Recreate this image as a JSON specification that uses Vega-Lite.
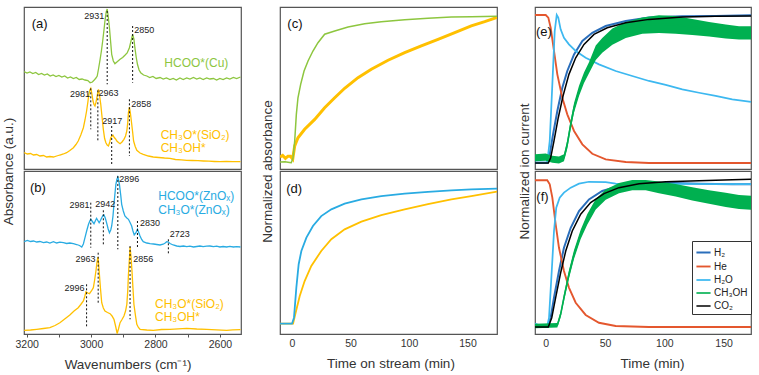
{
"$schema": "https://vega.github.io/schema/vega-lite/v6.json",
"padding": {"left": 0, "top": 6, "right": 5, "bottom": 2},
"config": {"font": "Liberation Sans", "view": {"stroke": "#555", "strokeWidth": 1.2}, "axis": {"grid": false, "labelFont": "Liberation Sans", "titleFont": "Liberation Sans"}},
"spacing": 17,
"resolve": {"scale": {"color": "independent", "strokeWidth": "independent"}, "legend": {"color": "independent"}},
"hconcat": [
{
 "vconcat": [
 {
  "width": 217, "height": 162,
  "encoding": {
   "x": {"field": "wn", "type": "quantitative", "scale": {"domain": [2534.4, 3208.4], "reverse": true, "nice": false, "zero": false}, "axis": null},
   "y": {"field": "h", "type": "quantitative", "scale": {"domain": [0, 162], "nice": false, "zero": false}, "axis": {"title": "Absorbance (a.u.)", "labels": false, "ticks": false, "domain": false, "grid": false, "titleX": -16, "titleY": 164, "titleAngle": -90, "titleAlign": "center", "titleBaseline": "middle", "titleFontSize": 13.5, "titleFontWeight": "normal", "titleColor": "#333"}}
  },
  "layer": [
   {"data": {"values": [
    {"wn":3208,"h":97.3,"s":"HCOO(Cu)"},{"wn":3199,"h":96,"s":"HCOO(Cu)"},{"wn":3190,"h":97,"s":"HCOO(Cu)"},{"wn":3181,"h":95.5,"s":"HCOO(Cu)"},{"wn":3172,"h":96.5,"s":"HCOO(Cu)"},{"wn":3163,"h":94.5,"s":"HCOO(Cu)"},{"wn":3154,"h":95.5,"s":"HCOO(Cu)"},{"wn":3145,"h":94,"s":"HCOO(Cu)"},{"wn":3136,"h":95,"s":"HCOO(Cu)"},{"wn":3127,"h":93,"s":"HCOO(Cu)"},{"wn":3118,"h":94,"s":"HCOO(Cu)"},{"wn":3109,"h":92.5,"s":"HCOO(Cu)"},{"wn":3100,"h":93.5,"s":"HCOO(Cu)"},{"wn":3091,"h":92,"s":"HCOO(Cu)"},{"wn":3082,"h":93,"s":"HCOO(Cu)"},{"wn":3073,"h":91,"s":"HCOO(Cu)"},{"wn":3064,"h":92,"s":"HCOO(Cu)"},{"wn":3055,"h":90.5,"s":"HCOO(Cu)"},{"wn":3046,"h":91.5,"s":"HCOO(Cu)"},{"wn":3037,"h":89.5,"s":"HCOO(Cu)"},{"wn":3028,"h":90,"s":"HCOO(Cu)"},{"wn":3019,"h":89,"s":"HCOO(Cu)"},{"wn":3010,"h":88.5,"s":"HCOO(Cu)"},{"wn":3003,"h":86.3,"s":"HCOO(Cu)"},{"wn":2996,"h":87,"s":"HCOO(Cu)"},{"wn":2991,"h":88.7,"s":"HCOO(Cu)"},{"wn":2985,"h":91,"s":"HCOO(Cu)"},{"wn":2981,"h":93,"s":"HCOO(Cu)"},{"wn":2977,"h":100,"s":"HCOO(Cu)"},{"wn":2972,"h":109.7,"s":"HCOO(Cu)"},{"wn":2968,"h":118,"s":"HCOO(Cu)"},{"wn":2964,"h":128,"s":"HCOO(Cu)"},{"wn":2960,"h":139,"s":"HCOO(Cu)"},{"wn":2957,"h":148,"s":"HCOO(Cu)"},{"wn":2953,"h":157,"s":"HCOO(Cu)"},{"wn":2950,"h":160,"s":"HCOO(Cu)"},{"wn":2947,"h":153,"s":"HCOO(Cu)"},{"wn":2943,"h":141.3,"s":"HCOO(Cu)"},{"wn":2939,"h":126,"s":"HCOO(Cu)"},{"wn":2936,"h":114.7,"s":"HCOO(Cu)"},{"wn":2931,"h":108,"s":"HCOO(Cu)"},{"wn":2926,"h":105.3,"s":"HCOO(Cu)"},{"wn":2918,"h":107.5,"s":"HCOO(Cu)"},{"wn":2910,"h":109.7,"s":"HCOO(Cu)"},{"wn":2902,"h":111.5,"s":"HCOO(Cu)"},{"wn":2895,"h":113.7,"s":"HCOO(Cu)"},{"wn":2888,"h":116,"s":"HCOO(Cu)"},{"wn":2881,"h":121.3,"s":"HCOO(Cu)"},{"wn":2876,"h":128,"s":"HCOO(Cu)"},{"wn":2871,"h":134.7,"s":"HCOO(Cu)"},{"wn":2867,"h":130,"s":"HCOO(Cu)"},{"wn":2864,"h":121.3,"s":"HCOO(Cu)"},{"wn":2860,"h":112,"s":"HCOO(Cu)"},{"wn":2856,"h":104.7,"s":"HCOO(Cu)"},{"wn":2851,"h":99,"s":"HCOO(Cu)"},{"wn":2846,"h":96.3,"s":"HCOO(Cu)"},{"wn":2837,"h":94,"s":"HCOO(Cu)"},{"wn":2827,"h":93,"s":"HCOO(Cu)"},{"wn":2818,"h":91.5,"s":"HCOO(Cu)"},{"wn":2808,"h":92.5,"s":"HCOO(Cu)"},{"wn":2798,"h":90.5,"s":"HCOO(Cu)"},{"wn":2786,"h":91.5,"s":"HCOO(Cu)"},{"wn":2776,"h":90,"s":"HCOO(Cu)"},{"wn":2766,"h":91,"s":"HCOO(Cu)"},{"wn":2755,"h":89.5,"s":"HCOO(Cu)"},{"wn":2745,"h":90.5,"s":"HCOO(Cu)"},{"wn":2735,"h":89,"s":"HCOO(Cu)"},{"wn":2724,"h":91,"s":"HCOO(Cu)"},{"wn":2714,"h":89.5,"s":"HCOO(Cu)"},{"wn":2703,"h":91,"s":"HCOO(Cu)"},{"wn":2693,"h":90,"s":"HCOO(Cu)"},{"wn":2682,"h":91.5,"s":"HCOO(Cu)"},{"wn":2672,"h":90,"s":"HCOO(Cu)"},{"wn":2662,"h":91,"s":"HCOO(Cu)"},{"wn":2652,"h":89.5,"s":"HCOO(Cu)"},{"wn":2641,"h":91,"s":"HCOO(Cu)"},{"wn":2631,"h":90,"s":"HCOO(Cu)"},{"wn":2620,"h":90.5,"s":"HCOO(Cu)"},{"wn":2610,"h":89,"s":"HCOO(Cu)"},{"wn":2600,"h":90.5,"s":"HCOO(Cu)"},{"wn":2590,"h":89.5,"s":"HCOO(Cu)"},{"wn":2579,"h":91,"s":"HCOO(Cu)"},{"wn":2569,"h":90,"s":"HCOO(Cu)"},{"wn":2558,"h":91.5,"s":"HCOO(Cu)"},{"wn":2548,"h":90.5,"s":"HCOO(Cu)"},{"wn":2536,"h":92,"s":"HCOO(Cu)"},
    {"wn":3208,"h":16.3,"s":"CH3O(SiO2)"},{"wn":3198,"h":15,"s":"CH3O(SiO2)"},{"wn":3188,"h":15.5,"s":"CH3O(SiO2)"},{"wn":3179,"h":14,"s":"CH3O(SiO2)"},{"wn":3169,"h":14.5,"s":"CH3O(SiO2)"},{"wn":3159,"h":13,"s":"CH3O(SiO2)"},{"wn":3148,"h":13.5,"s":"CH3O(SiO2)"},{"wn":3138,"h":12,"s":"CH3O(SiO2)"},{"wn":3128,"h":12.5,"s":"CH3O(SiO2)"},{"wn":3117,"h":12,"s":"CH3O(SiO2)"},{"wn":3107,"h":13,"s":"CH3O(SiO2)"},{"wn":3097,"h":14,"s":"CH3O(SiO2)"},{"wn":3086,"h":15,"s":"CH3O(SiO2)"},{"wn":3076,"h":16.3,"s":"CH3O(SiO2)"},{"wn":3066,"h":18.5,"s":"CH3O(SiO2)"},{"wn":3055,"h":21.3,"s":"CH3O(SiO2)"},{"wn":3047,"h":24.5,"s":"CH3O(SiO2)"},{"wn":3040,"h":28,"s":"CH3O(SiO2)"},{"wn":3032,"h":34,"s":"CH3O(SiO2)"},{"wn":3024,"h":41.3,"s":"CH3O(SiO2)"},{"wn":3019,"h":49,"s":"CH3O(SiO2)"},{"wn":3014,"h":58,"s":"CH3O(SiO2)"},{"wn":3010,"h":67,"s":"CH3O(SiO2)"},{"wn":3007,"h":74.7,"s":"CH3O(SiO2)"},{"wn":3004,"h":79,"s":"CH3O(SiO2)"},{"wn":3001,"h":80.7,"s":"CH3O(SiO2)"},{"wn":2998,"h":76,"s":"CH3O(SiO2)"},{"wn":2994,"h":68,"s":"CH3O(SiO2)"},{"wn":2991,"h":64.5,"s":"CH3O(SiO2)"},{"wn":2988,"h":63,"s":"CH3O(SiO2)"},{"wn":2985,"h":66.5,"s":"CH3O(SiO2)"},{"wn":2982,"h":71.3,"s":"CH3O(SiO2)"},{"wn":2979,"h":77,"s":"CH3O(SiO2)"},{"wn":2977,"h":79.7,"s":"CH3O(SiO2)"},{"wn":2974,"h":74,"s":"CH3O(SiO2)"},{"wn":2970,"h":64.7,"s":"CH3O(SiO2)"},{"wn":2966,"h":52,"s":"CH3O(SiO2)"},{"wn":2962,"h":39.7,"s":"CH3O(SiO2)"},{"wn":2958,"h":30.5,"s":"CH3O(SiO2)"},{"wn":2954,"h":26.3,"s":"CH3O(SiO2)"},{"wn":2950,"h":24,"s":"CH3O(SiO2)"},{"wn":2946,"h":23,"s":"CH3O(SiO2)"},{"wn":2942,"h":27,"s":"CH3O(SiO2)"},{"wn":2939,"h":31.3,"s":"CH3O(SiO2)"},{"wn":2935,"h":33,"s":"CH3O(SiO2)"},{"wn":2932,"h":33.7,"s":"CH3O(SiO2)"},{"wn":2928,"h":31.5,"s":"CH3O(SiO2)"},{"wn":2924,"h":30,"s":"CH3O(SiO2)"},{"wn":2920,"h":28,"s":"CH3O(SiO2)"},{"wn":2915,"h":26.5,"s":"CH3O(SiO2)"},{"wn":2910,"h":25.3,"s":"CH3O(SiO2)"},{"wn":2904,"h":27,"s":"CH3O(SiO2)"},{"wn":2898,"h":29.7,"s":"CH3O(SiO2)"},{"wn":2893,"h":33,"s":"CH3O(SiO2)"},{"wn":2889,"h":38,"s":"CH3O(SiO2)"},{"wn":2886,"h":47,"s":"CH3O(SiO2)"},{"wn":2884,"h":56.3,"s":"CH3O(SiO2)"},{"wn":2881,"h":62,"s":"CH3O(SiO2)"},{"wn":2878,"h":56,"s":"CH3O(SiO2)"},{"wn":2875,"h":48,"s":"CH3O(SiO2)"},{"wn":2871,"h":37,"s":"CH3O(SiO2)"},{"wn":2868,"h":28,"s":"CH3O(SiO2)"},{"wn":2863,"h":22.5,"s":"CH3O(SiO2)"},{"wn":2858,"h":18.7,"s":"CH3O(SiO2)"},{"wn":2848,"h":16,"s":"CH3O(SiO2)"},{"wn":2838,"h":14.7,"s":"CH3O(SiO2)"},{"wn":2822,"h":13,"s":"CH3O(SiO2)"},{"wn":2807,"h":12,"s":"CH3O(SiO2)"},{"wn":2790,"h":11.5,"s":"CH3O(SiO2)"},{"wn":2772,"h":11,"s":"CH3O(SiO2)"},{"wn":2755,"h":10.7,"s":"CH3O(SiO2)"},{"wn":2738,"h":9.5,"s":"CH3O(SiO2)"},{"wn":2720,"h":9.2,"s":"CH3O(SiO2)"},{"wn":2703,"h":8.7,"s":"CH3O(SiO2)"},{"wn":2686,"h":8.5,"s":"CH3O(SiO2)"},{"wn":2668,"h":8.3,"s":"CH3O(SiO2)"},{"wn":2651,"h":8,"s":"CH3O(SiO2)"},{"wn":2634,"h":7.8,"s":"CH3O(SiO2)"},{"wn":2617,"h":7.5,"s":"CH3O(SiO2)"},{"wn":2600,"h":7.3,"s":"CH3O(SiO2)"},{"wn":2580,"h":7.5,"s":"CH3O(SiO2)"},{"wn":2560,"h":7.3,"s":"CH3O(SiO2)"},{"wn":2536,"h":7.3,"s":"CH3O(SiO2)"}
   ]},
    "mark": {"type": "line", "clip": true, "strokeWidth": 1.3},
    "encoding": {"color": {"field": "s", "type": "nominal", "scale": {"domain": ["HCOO(Cu)", "CH3O(SiO2)"], "range": ["#8DC63F", "#FFC000"]}, "legend": null}}},
   {"data": {"values": [
    {"wn":2950,"h":158,"h2":84.7},{"wn":2871,"h":143,"h2":86.3},{"wn":3001,"h":80.7,"h2":39.7},{"wn":2979,"h":78.7,"h2":28},{"wn":2936,"h":43,"h2":4.7},{"wn":2881,"h":69.7,"h2":13}
   ]},
    "mark": {"type": "rule", "strokeDash": [2, 2], "color": "#111", "strokeWidth": 1},
    "encoding": {"y2": {"field": "h2"}}},
   {"data": {"values": [
    {"wn":2990,"h":153,"label":"2931"},{"wn":2835,"h":138.7,"label":"2850"},{"wn":3034.5,"h":74.7,"label":"2981"},{"wn":2946,"h":76,"label":"2963"},{"wn":2934.5,"h":48,"label":"2917"},{"wn":2844,"h":65.3,"label":"2858"}
   ]},
    "mark": {"type": "text", "fontSize": 9, "align": "center", "baseline": "middle", "color": "#222"},
    "encoding": {"text": {"field": "label"}}},
   {"data": {"values": [
    {"wn":2772.6,"h":106.3,"label":"HCOO*(Cu)","s":"HCOO(Cu)"},{"wn":2783.8,"h":34,"label":"CH₃O*(SiO₂)","s":"CH3O(SiO2)"},{"wn":2783.8,"h":21.3,"label":"CH₃OH*","s":"CH3O(SiO2)"}
   ]},
    "mark": {"type": "text", "fontSize": 12, "align": "left", "baseline": "middle"},
    "encoding": {"text": {"field": "label"}, "color": {"field": "s", "type": "nominal", "scale": {"domain": ["HCOO(Cu)", "CH3O(SiO2)"], "range": ["#8DC63F", "#FFC000"]}, "legend": null}}},
   {"data": {"values": [{"wn":3184.5,"h":144.7,"label":"(a)"}]},
    "mark": {"type": "text", "fontSize": 13, "align": "left", "baseline": "middle", "color": "#111"},
    "encoding": {"text": {"field": "label"}}}
  ]
 },
 {
  "width": 217, "height": 163,
  "encoding": {
   "x": {"field": "wn", "type": "quantitative", "scale": {"domain": [2534.4, 3208.4], "reverse": true, "nice": false, "zero": false}, "axis": {"values": [3200, 3100, 3000, 2900, 2800, 2700, 2600], "format": "d", "labelExpr": "datum.value % 200 == 0 ? datum.label : ''", "labelFlush": false, "labelOverlap": false, "domain": false, "grid": false, "ticks": true, "tickSize": 3, "tickColor": "#555", "labelFontSize": 10.5, "labelColor": "#333", "labelPadding": 2, "title": "Wavenumbers (cm⁻¹)", "titleFontSize": 13.5, "titleFontWeight": "normal", "titleColor": "#333", "titlePadding": 8, "titleX": 103.5, "titleAlign": "center"}},
   "y": {"field": "h", "type": "quantitative", "scale": {"domain": [-1, 162], "nice": false, "zero": false}, "axis": null}
  },
  "layer": [
   {"data": {"values": [
    {"wn":3208,"h":91.3,"s":"ZnOx"},{"wn":3198,"h":92.5,"s":"ZnOx"},{"wn":3188,"h":91.5,"s":"ZnOx"},{"wn":3179,"h":92,"s":"ZnOx"},{"wn":3169,"h":91,"s":"ZnOx"},{"wn":3159,"h":91.5,"s":"ZnOx"},{"wn":3148,"h":90.3,"s":"ZnOx"},{"wn":3138,"h":91,"s":"ZnOx"},{"wn":3128,"h":90,"s":"ZnOx"},{"wn":3117,"h":91.3,"s":"ZnOx"},{"wn":3107,"h":90,"s":"ZnOx"},{"wn":3097,"h":90.8,"s":"ZnOx"},{"wn":3086,"h":90.3,"s":"ZnOx"},{"wn":3076,"h":89.5,"s":"ZnOx"},{"wn":3066,"h":90,"s":"ZnOx"},{"wn":3055,"h":89.3,"s":"ZnOx"},{"wn":3045,"h":88.5,"s":"ZnOx"},{"wn":3036,"h":87.5,"s":"ZnOx"},{"wn":3029,"h":86,"s":"ZnOx"},{"wn":3024,"h":89,"s":"ZnOx"},{"wn":3019,"h":95.3,"s":"ZnOx"},{"wn":3013,"h":103,"s":"ZnOx"},{"wn":3008,"h":108.7,"s":"ZnOx"},{"wn":3004,"h":112,"s":"ZnOx"},{"wn":3001,"h":113.7,"s":"ZnOx"},{"wn":2996,"h":111.5,"s":"ZnOx"},{"wn":2991,"h":109.3,"s":"ZnOx"},{"wn":2987,"h":112,"s":"ZnOx"},{"wn":2983,"h":114.7,"s":"ZnOx"},{"wn":2979,"h":112.5,"s":"ZnOx"},{"wn":2975,"h":110.3,"s":"ZnOx"},{"wn":2971,"h":112.5,"s":"ZnOx"},{"wn":2967,"h":115.3,"s":"ZnOx"},{"wn":2963,"h":117.5,"s":"ZnOx"},{"wn":2960,"h":118,"s":"ZnOx"},{"wn":2956,"h":115,"s":"ZnOx"},{"wn":2952,"h":110.3,"s":"ZnOx"},{"wn":2947,"h":104,"s":"ZnOx"},{"wn":2943,"h":100.3,"s":"ZnOx"},{"wn":2939,"h":103,"s":"ZnOx"},{"wn":2936,"h":107,"s":"ZnOx"},{"wn":2932,"h":117,"s":"ZnOx"},{"wn":2929,"h":128.7,"s":"ZnOx"},{"wn":2926,"h":139,"s":"ZnOx"},{"wn":2923,"h":148.7,"s":"ZnOx"},{"wn":2920,"h":153.5,"s":"ZnOx"},{"wn":2917,"h":156,"s":"ZnOx"},{"wn":2915,"h":153.5,"s":"ZnOx"},{"wn":2912,"h":148.7,"s":"ZnOx"},{"wn":2908,"h":138,"s":"ZnOx"},{"wn":2905,"h":128.7,"s":"ZnOx"},{"wn":2900,"h":122,"s":"ZnOx"},{"wn":2895,"h":117,"s":"ZnOx"},{"wn":2889,"h":115,"s":"ZnOx"},{"wn":2884,"h":113.7,"s":"ZnOx"},{"wn":2879,"h":110.5,"s":"ZnOx"},{"wn":2874,"h":107,"s":"ZnOx"},{"wn":2870,"h":102,"s":"ZnOx"},{"wn":2866,"h":98,"s":"ZnOx"},{"wn":2861,"h":100,"s":"ZnOx"},{"wn":2856,"h":103.7,"s":"ZnOx"},{"wn":2852,"h":100.5,"s":"ZnOx"},{"wn":2848,"h":97,"s":"ZnOx"},{"wn":2843,"h":93.5,"s":"ZnOx"},{"wn":2838,"h":91.3,"s":"ZnOx"},{"wn":2827,"h":90,"s":"ZnOx"},{"wn":2817,"h":89.3,"s":"ZnOx"},{"wn":2806,"h":89,"s":"ZnOx"},{"wn":2796,"h":88.5,"s":"ZnOx"},{"wn":2786,"h":88,"s":"ZnOx"},{"wn":2776,"h":88.8,"s":"ZnOx"},{"wn":2770,"h":90,"s":"ZnOx"},{"wn":2765,"h":91.3,"s":"ZnOx"},{"wn":2760,"h":91,"s":"ZnOx"},{"wn":2755,"h":89.5,"s":"ZnOx"},{"wn":2745,"h":88,"s":"ZnOx"},{"wn":2734,"h":87,"s":"ZnOx"},{"wn":2724,"h":86.5,"s":"ZnOx"},{"wn":2713,"h":87,"s":"ZnOx"},{"wn":2703,"h":86.3,"s":"ZnOx"},{"wn":2693,"h":86.8,"s":"ZnOx"},{"wn":2682,"h":86,"s":"ZnOx"},{"wn":2672,"h":86.5,"s":"ZnOx"},{"wn":2662,"h":87,"s":"ZnOx"},{"wn":2652,"h":86.3,"s":"ZnOx"},{"wn":2641,"h":86.8,"s":"ZnOx"},{"wn":2631,"h":87,"s":"ZnOx"},{"wn":2620,"h":86.3,"s":"ZnOx"},{"wn":2610,"h":86.8,"s":"ZnOx"},{"wn":2600,"h":86,"s":"ZnOx"},{"wn":2590,"h":86.5,"s":"ZnOx"},{"wn":2579,"h":86,"s":"ZnOx"},{"wn":2569,"h":86.6,"s":"ZnOx"},{"wn":2558,"h":86,"s":"ZnOx"},{"wn":2548,"h":86.4,"s":"ZnOx"},{"wn":2536,"h":86,"s":"ZnOx"},
    {"wn":3208,"h":2.7,"s":"SiO2"},{"wn":3188,"h":3,"s":"SiO2"},{"wn":3169,"h":3.7,"s":"SiO2"},{"wn":3148,"h":4.5,"s":"SiO2"},{"wn":3128,"h":5.3,"s":"SiO2"},{"wn":3112,"h":7.5,"s":"SiO2"},{"wn":3097,"h":10.3,"s":"SiO2"},{"wn":3082,"h":14,"s":"SiO2"},{"wn":3066,"h":18,"s":"SiO2"},{"wn":3053,"h":22,"s":"SiO2"},{"wn":3040,"h":25.3,"s":"SiO2"},{"wn":3032,"h":28.5,"s":"SiO2"},{"wn":3024,"h":32,"s":"SiO2"},{"wn":3020,"h":36,"s":"SiO2"},{"wn":3016,"h":41.3,"s":"SiO2"},{"wn":3010,"h":40,"s":"SiO2"},{"wn":3005,"h":39.3,"s":"SiO2"},{"wn":2999,"h":42,"s":"SiO2"},{"wn":2993,"h":45.3,"s":"SiO2"},{"wn":2989,"h":53,"s":"SiO2"},{"wn":2985,"h":62,"s":"SiO2"},{"wn":2982,"h":70,"s":"SiO2"},{"wn":2979,"h":76,"s":"SiO2"},{"wn":2977,"h":71,"s":"SiO2"},{"wn":2975,"h":62,"s":"SiO2"},{"wn":2971,"h":45,"s":"SiO2"},{"wn":2967,"h":30.3,"s":"SiO2"},{"wn":2962,"h":25,"s":"SiO2"},{"wn":2957,"h":22,"s":"SiO2"},{"wn":2949,"h":20.5,"s":"SiO2"},{"wn":2941,"h":19.3,"s":"SiO2"},{"wn":2935,"h":17,"s":"SiO2"},{"wn":2929,"h":13.7,"s":"SiO2"},{"wn":2924,"h":7,"s":"SiO2"},{"wn":2919,"h":-0.5,"s":"SiO2"},{"wn":2915,"h":4,"s":"SiO2"},{"wn":2910,"h":10.3,"s":"SiO2"},{"wn":2904,"h":13.5,"s":"SiO2"},{"wn":2898,"h":17,"s":"SiO2"},{"wn":2893,"h":22,"s":"SiO2"},{"wn":2889,"h":28.7,"s":"SiO2"},{"wn":2886,"h":43,"s":"SiO2"},{"wn":2884,"h":58.7,"s":"SiO2"},{"wn":2881,"h":74,"s":"SiO2"},{"wn":2879,"h":86,"s":"SiO2"},{"wn":2876,"h":76,"s":"SiO2"},{"wn":2873,"h":62,"s":"SiO2"},{"wn":2870,"h":45,"s":"SiO2"},{"wn":2867,"h":28.7,"s":"SiO2"},{"wn":2862,"h":17,"s":"SiO2"},{"wn":2858,"h":8.7,"s":"SiO2"},{"wn":2853,"h":5.5,"s":"SiO2"},{"wn":2848,"h":3.7,"s":"SiO2"},{"wn":2827,"h":3,"s":"SiO2"},{"wn":2807,"h":2.7,"s":"SiO2"},{"wn":2781,"h":3.5,"s":"SiO2"},{"wn":2755,"h":3.7,"s":"SiO2"},{"wn":2729,"h":4.2,"s":"SiO2"},{"wn":2703,"h":4.7,"s":"SiO2"},{"wn":2672,"h":4,"s":"SiO2"},{"wn":2641,"h":3.7,"s":"SiO2"},{"wn":2610,"h":3.2,"s":"SiO2"},{"wn":2579,"h":2.7,"s":"SiO2"},{"wn":2560,"h":3.1,"s":"SiO2"},{"wn":2536,"h":3.3,"s":"SiO2"}
   ]},
    "mark": {"type": "line", "clip": true, "strokeWidth": 1.3},
    "encoding": {"color": {"field": "s", "type": "nominal", "scale": {"domain": ["ZnOx", "SiO2"], "range": ["#29ABE2", "#FFC000"]}, "legend": null}}},
   {"data": {"values": [
    {"wn":3001,"h":130.3,"h2":85.3},{"wn":2962,"h":122.7,"h2":87},{"wn":2917,"h":157,"h2":83.7},{"wn":2856,"h":112,"h2":85.3},{"wn":2760,"h":93.7,"h2":79.3},{"wn":2978,"h":80.3,"h2":28.7},{"wn":3014,"h":48.7,"h2":5.3},{"wn":2879,"h":87,"h2":13.7}
   ]},
    "mark": {"type": "rule", "strokeDash": [2, 2], "color": "#111", "strokeWidth": 1},
    "encoding": {"y2": {"field": "h2"}}},
   {"data": {"values": [
    {"wn":3036,"h":128,"label":"2981"},{"wn":2956.2,"h":128.7,"label":"2942"},{"wn":2881.7,"h":153.7,"label":"2896"},{"wn":2817,"h":110.3,"label":"2830"},{"wn":2724.8,"h":98.7,"label":"2723"},{"wn":3017.4,"h":73.7,"label":"2963"},{"wn":2838,"h":73.7,"label":"2856"},{"wn":3051.5,"h":45.3,"label":"2996"}
   ]},
    "mark": {"type": "text", "fontSize": 9, "align": "center", "baseline": "middle", "color": "#222"},
    "encoding": {"text": {"field": "label"}}},
   {"data": {"values": [
    {"wn":2791.3,"h":137,"label":"HCOO*(ZnOₓ)","s":"ZnOx"},{"wn":2791.3,"h":122.7,"label":"CH₃O*(ZnOₓ)","s":"ZnOx"},{"wn":2801.6,"h":28.7,"label":"CH₃O*(SiO₂)","s":"SiO2"},{"wn":2801.6,"h":16,"label":"CH₃OH*","s":"SiO2"}
   ]},
    "mark": {"type": "text", "fontSize": 12, "align": "left", "baseline": "middle"},
    "encoding": {"text": {"field": "label"}, "color": {"field": "s", "type": "nominal", "scale": {"domain": ["ZnOx", "SiO2"], "range": ["#29ABE2", "#FFC000"]}, "legend": null}}},
   {"data": {"values": [{"wn":3189.8,"h":145.3,"label":"(b)"}]},
    "mark": {"type": "text", "fontSize": 13, "align": "left", "baseline": "middle", "color": "#111"},
    "encoding": {"text": {"field": "label"}}}
  ]
 }
 ],
 "spacing": 2,
 "bounds": "flush",
 "resolve": {"scale": {"color": "independent"}, "legend": {"color": "independent"}}
},
{
 "hconcat": [
 {
  "vconcat": [
  {
   "width": 217, "height": 162,
   "encoding": {
    "x": {"field": "t", "type": "quantitative", "scale": {"domain": [-10.26, 175.2], "nice": false, "zero": false}, "axis": null},
    "y": {"field": "v", "type": "quantitative", "scale": {"domain": [-0.0479, 1.0616], "nice": false, "zero": false}, "axis": {"title": "Normalized absorbance", "labels": false, "ticks": false, "domain": false, "grid": false, "titleX": -13, "titleY": 164, "titleAngle": -90, "titleAlign": "center", "titleBaseline": "middle", "titleFontSize": 13.5, "titleFontWeight": "normal", "titleColor": "#333"}}
   },
   "layer": [
    {"data": {"values": [
     {"t":-10.26,"v":0.034,"s":"CH3O(SiO2)"},{"t":-8,"v":0.045,"s":"CH3O(SiO2)"},{"t":-5.6,"v":0.025,"s":"CH3O(SiO2)"},{"t":-3.5,"v":0.04,"s":"CH3O(SiO2)"},{"t":-1.3,"v":0.039,"s":"CH3O(SiO2)"},{"t":0.6,"v":0.02,"s":"CH3O(SiO2)"},{"t":2.3,"v":0.11,"s":"CH3O(SiO2)"},{"t":5.1,"v":0.166,"s":"CH3O(SiO2)"},{"t":10.8,"v":0.224,"s":"CH3O(SiO2)"},{"t":19.4,"v":0.292,"s":"CH3O(SiO2)"},{"t":27.9,"v":0.372,"s":"CH3O(SiO2)"},{"t":36.5,"v":0.44,"s":"CH3O(SiO2)"},{"t":45,"v":0.505,"s":"CH3O(SiO2)"},{"t":56.4,"v":0.578,"s":"CH3O(SiO2)"},{"t":67.8,"v":0.635,"s":"CH3O(SiO2)"},{"t":82.1,"v":0.697,"s":"CH3O(SiO2)"},{"t":96.3,"v":0.749,"s":"CH3O(SiO2)"},{"t":110.5,"v":0.795,"s":"CH3O(SiO2)"},{"t":124.8,"v":0.84,"s":"CH3O(SiO2)"},{"t":139.1,"v":0.886,"s":"CH3O(SiO2)"},{"t":153.2,"v":0.932,"s":"CH3O(SiO2)"},{"t":164.7,"v":0.961,"s":"CH3O(SiO2)"},{"t":175.2,"v":0.99,"s":"CH3O(SiO2)"},
     {"t":-10.26,"v":0,"s":"HCOO(Cu)"},{"t":-6,"v":0.002,"s":"HCOO(Cu)"},{"t":-2,"v":-0.003,"s":"HCOO(Cu)"},{"t":-0.6,"v":-0.005,"s":"HCOO(Cu)"},{"t":0.9,"v":0.03,"s":"HCOO(Cu)"},{"t":2.3,"v":0.144,"s":"HCOO(Cu)"},{"t":3.7,"v":0.326,"s":"HCOO(Cu)"},{"t":5.1,"v":0.44,"s":"HCOO(Cu)"},{"t":7.4,"v":0.532,"s":"HCOO(Cu)"},{"t":10.3,"v":0.623,"s":"HCOO(Cu)"},{"t":13.7,"v":0.692,"s":"HCOO(Cu)"},{"t":17.9,"v":0.76,"s":"HCOO(Cu)"},{"t":22.2,"v":0.817,"s":"HCOO(Cu)"},{"t":27.9,"v":0.875,"s":"HCOO(Cu)"},{"t":36.5,"v":0.897,"s":"HCOO(Cu)"},{"t":47.9,"v":0.925,"s":"HCOO(Cu)"},{"t":62.1,"v":0.947,"s":"HCOO(Cu)"},{"t":76.3,"v":0.961,"s":"HCOO(Cu)"},{"t":96.3,"v":0.975,"s":"HCOO(Cu)"},{"t":116.2,"v":0.984,"s":"HCOO(Cu)"},{"t":136.2,"v":0.993,"s":"HCOO(Cu)"},{"t":153.2,"v":0.995,"s":"HCOO(Cu)"},{"t":175.2,"v":0.998,"s":"HCOO(Cu)"}
    ]},
     "mark": {"type": "line", "clip": true},
     "encoding": {"color": {"field": "s", "type": "nominal", "scale": {"domain": ["HCOO(Cu)", "CH3O(SiO2)"], "range": ["#8DC63F", "#FFC000"]}, "legend": null},
      "strokeWidth": {"field": "s", "type": "nominal", "scale": {"domain": ["HCOO(Cu)", "CH3O(SiO2)"], "range": [1.5, 3]}, "legend": null}}},
    {"data": {"values": [{"t":-4,"v":0.943,"label":"(c)"}]},
     "mark": {"type": "text", "fontSize": 13, "align": "left", "baseline": "middle", "color": "#111"},
     "encoding": {"text": {"field": "label"}}}
   ]
  },
  {
   "width": 217, "height": 163,
   "encoding": {
    "x": {"field": "t", "type": "quantitative", "scale": {"domain": [-10.26, 175.2], "nice": false, "zero": false}, "axis": {"values": [0, 50, 100, 150], "labelFlush": false, "domain": false, "grid": false, "ticks": false, "labelFontSize": 10.5, "labelColor": "#333", "labelPadding": 4, "title": "Time on stream (min)", "titleFontSize": 13.5, "titleFontWeight": "normal", "titleColor": "#333", "titlePadding": 8, "titleX": 110.5, "titleAlign": "center"}},
    "y": {"field": "v", "type": "quantitative", "scale": {"domain": [-0.0548, 1.0616], "nice": false, "zero": false}, "axis": null}
   },
   "layer": [
    {"data": {"values": [
     {"t":-10.26,"v":0.016,"s":"SiO2"},{"t":0.9,"v":0.016,"s":"SiO2"},{"t":2.8,"v":0.08,"s":"SiO2"},{"t":6.6,"v":0.205,"s":"SiO2"},{"t":10.8,"v":0.308,"s":"SiO2"},{"t":16.5,"v":0.411,"s":"SiO2"},{"t":25,"v":0.514,"s":"SiO2"},{"t":33.6,"v":0.594,"s":"SiO2"},{"t":45,"v":0.662,"s":"SiO2"},{"t":59.3,"v":0.715,"s":"SiO2"},{"t":76.3,"v":0.76,"s":"SiO2"},{"t":96.3,"v":0.799,"s":"SiO2"},{"t":116.2,"v":0.834,"s":"SiO2"},{"t":136.2,"v":0.868,"s":"SiO2"},{"t":153.2,"v":0.89,"s":"SiO2"},{"t":175.2,"v":0.92,"s":"SiO2"},
     {"t":-10.26,"v":0.016,"s":"ZnOx"},{"t":0,"v":0.016,"s":"ZnOx"},{"t":1.7,"v":0.057,"s":"ZnOx"},{"t":3.7,"v":0.262,"s":"ZnOx"},{"t":5.7,"v":0.423,"s":"ZnOx"},{"t":8,"v":0.514,"s":"ZnOx"},{"t":12.3,"v":0.605,"s":"ZnOx"},{"t":17.9,"v":0.685,"s":"ZnOx"},{"t":25,"v":0.753,"s":"ZnOx"},{"t":33.6,"v":0.799,"s":"ZnOx"},{"t":45,"v":0.838,"s":"ZnOx"},{"t":59.3,"v":0.868,"s":"ZnOx"},{"t":76.3,"v":0.89,"s":"ZnOx"},{"t":96.3,"v":0.906,"s":"ZnOx"},{"t":116.2,"v":0.918,"s":"ZnOx"},{"t":136.2,"v":0.929,"s":"ZnOx"},{"t":153.2,"v":0.936,"s":"ZnOx"},{"t":175.2,"v":0.941,"s":"ZnOx"}
    ]},
     "mark": {"type": "line", "clip": true, "strokeWidth": 1.8},
     "encoding": {"color": {"field": "s", "type": "nominal", "scale": {"domain": ["ZnOx", "SiO2"], "range": ["#29ABE2", "#FFC000"]}, "legend": null}}},
    {"data": {"values": [{"t":-4.9,"v":0.936,"label":"(d)"}]},
     "mark": {"type": "text", "fontSize": 13, "align": "left", "baseline": "middle", "color": "#111"},
     "encoding": {"text": {"field": "label"}}}
   ]
  }
  ],
  "spacing": 2,
  "bounds": "flush",
  "resolve": {"scale": {"color": "independent", "strokeWidth": "independent"}, "legend": {"color": "independent"}}
 },
 {
  "vconcat": [
  {
   "width": 216, "height": 162,
   "data": {"values": [
    {"t":-9.02,"v":0.002,"s":"H₂"},{"t":1.3,"v":0.002,"s":"H₂"},{"t":3.4,"v":0.059,"s":"H₂"},{"t":6.2,"v":0.195,"s":"H₂"},{"t":9.8,"v":0.354,"s":"H₂"},{"t":14,"v":0.512,"s":"H₂"},{"t":18.2,"v":0.626,"s":"H₂"},{"t":23.9,"v":0.739,"s":"H₂"},{"t":30.9,"v":0.83,"s":"H₂"},{"t":39.3,"v":0.886,"s":"H₂"},{"t":50.6,"v":0.932,"s":"H₂"},{"t":67.5,"v":0.966,"s":"H₂"},{"t":87.1,"v":0.989,"s":"H₂"},{"t":115.2,"v":0.998,"s":"H₂"},{"t":143.3,"v":1.0,"s":"H₂"},{"t":173.1,"v":1.005,"s":"H₂"},
    {"t":-9.02,"v":1.007,"s":"He"},{"t":0,"v":1.007,"s":"He"},{"t":2.2,"v":0.989,"s":"He"},{"t":4.2,"v":0.92,"s":"He"},{"t":7,"v":0.762,"s":"He"},{"t":9.8,"v":0.603,"s":"He"},{"t":14,"v":0.444,"s":"He"},{"t":18.2,"v":0.331,"s":"He"},{"t":23.9,"v":0.218,"s":"He"},{"t":30.9,"v":0.127,"s":"He"},{"t":39.3,"v":0.063,"s":"He"},{"t":50.6,"v":0.025,"s":"He"},{"t":67.5,"v":0.007,"s":"He"},{"t":87.1,"v":0,"s":"He"},{"t":173.1,"v":0,"s":"He"},
    {"t":-9.02,"v":0.002,"s":"H₂O"},{"t":1.3,"v":0.002,"s":"H₂O"},{"t":3.4,"v":0.15,"s":"H₂O"},{"t":5.6,"v":0.535,"s":"H₂O"},{"t":7.6,"v":0.898,"s":"H₂O"},{"t":9.3,"v":1.007,"s":"H₂O"},{"t":10.6,"v":0.989,"s":"H₂O"},{"t":12.6,"v":0.909,"s":"H₂O"},{"t":15.4,"v":0.852,"s":"H₂O"},{"t":19.6,"v":0.807,"s":"H₂O"},{"t":25.3,"v":0.762,"s":"H₂O"},{"t":33.7,"v":0.716,"s":"H₂O"},{"t":44.9,"v":0.671,"s":"H₂O"},{"t":59,"v":0.626,"s":"H₂O"},{"t":73,"v":0.592,"s":"H₂O"},{"t":87.1,"v":0.558,"s":"H₂O"},{"t":101.2,"v":0.531,"s":"H₂O"},{"t":115.2,"v":0.501,"s":"H₂O"},{"t":129.3,"v":0.478,"s":"H₂O"},{"t":143.3,"v":0.456,"s":"H₂O"},{"t":157.3,"v":0.433,"s":"H₂O"},{"t":173.1,"v":0.415,"s":"H₂O"},
    {"t":-9.02,"v":0.036,"s":"CH₃OH"},{"t":0,"v":0.04,"s":"CH₃OH"},{"t":5.6,"v":0.025,"s":"CH₃OH"},{"t":11.2,"v":0.02,"s":"CH₃OH"},{"t":15.4,"v":0.036,"s":"CH₃OH"},{"t":18.2,"v":0.127,"s":"CH₃OH"},{"t":21.1,"v":0.263,"s":"CH₃OH"},{"t":23.9,"v":0.376,"s":"CH₃OH"},{"t":28.1,"v":0.49,"s":"CH₃OH"},{"t":32.3,"v":0.58,"s":"CH₃OH"},{"t":36.5,"v":0.648,"s":"CH₃OH"},{"t":42.2,"v":0.75,"s":"CH₃OH"},{"t":47.7,"v":0.8,"s":"CH₃OH"},{"t":56.2,"v":0.86,"s":"CH₃OH"},{"t":67.5,"v":0.905,"s":"CH₃OH"},{"t":81.5,"v":0.935,"s":"CH₃OH"},{"t":95.5,"v":0.945,"s":"CH₃OH"},{"t":109.6,"v":0.94,"s":"CH₃OH"},{"t":123.6,"v":0.925,"s":"CH₃OH"},{"t":137.7,"v":0.91,"s":"CH₃OH"},{"t":151.8,"v":0.895,"s":"CH₃OH"},{"t":163,"v":0.885,"s":"CH₃OH"},{"t":173.1,"v":0.885,"s":"CH₃OH"},
    {"t":-9.02,"v":0,"s":"CO₂"},{"t":2.2,"v":0,"s":"CO₂"},{"t":4.2,"v":0.036,"s":"CO₂"},{"t":7,"v":0.15,"s":"CO₂"},{"t":10.6,"v":0.308,"s":"CO₂"},{"t":14.6,"v":0.456,"s":"CO₂"},{"t":19.6,"v":0.603,"s":"CO₂"},{"t":25.3,"v":0.716,"s":"CO₂"},{"t":32.3,"v":0.807,"s":"CO₂"},{"t":40.7,"v":0.875,"s":"CO₂"},{"t":51.9,"v":0.92,"s":"CO₂"},{"t":67.5,"v":0.954,"s":"CO₂"},{"t":87.1,"v":0.977,"s":"CO₂"},{"t":115.2,"v":0.993,"s":"CO₂"},{"t":143.3,"v":0.998,"s":"CO₂"},{"t":173.1,"v":1.0,"s":"CO₂"}
   ]},
   "encoding": {
    "x": {"field": "t", "type": "quantitative", "scale": {"domain": [-9.02, 173.1], "nice": false, "zero": false}, "axis": null},
    "y": {"field": "v", "type": "quantitative", "scale": {"domain": [-0.0408, 1.0612], "nice": false, "zero": false}, "axis": {"title": "Normalized ion current", "labels": false, "ticks": false, "domain": false, "grid": false, "titleX": -11, "titleY": 164, "titleAngle": -90, "titleAlign": "center", "titleBaseline": "middle", "titleFontSize": 13.5, "titleFontWeight": "normal", "titleColor": "#333"}}
   },
   "layer": [
    {"transform": [{"filter": {"field": "s", "oneOf": ["H₂", "He", "H₂O"]}}],
     "mark": {"type": "line", "clip": true},
     "encoding": {"color": {"field": "s", "type": "nominal", "scale": {"domain": ["H₂", "He", "H₂O", "CH₃OH", "CO₂"], "range": ["#2A6EBB", "#E4572E", "#3DB8F0", "#00B050", "#000000"]}, "legend": null},
      "strokeWidth": {"field": "s", "type": "nominal", "scale": {"domain": ["H₂", "He", "H₂O", "CH₃OH", "CO₂"], "range": [2, 1.5, 1.5, 1.5, 1.5]}, "legend": null}}},
    {"data": {"values": [
     {"t":-9.02,"v":0.012,"v2":0.06},{"t":0,"v":0.016,"v2":0.064},{"t":5.6,"v":0.001,"v2":0.049},{"t":11.2,"v":-0.004,"v2":0.044},{"t":15.4,"v":0.012,"v2":0.06},{"t":18.2,"v":0.097,"v2":0.157},{"t":21.1,"v":0.233,"v2":0.293},{"t":23.9,"v":0.344,"v2":0.408},{"t":28.1,"v":0.455,"v2":0.525},{"t":32.3,"v":0.545,"v2":0.615},{"t":36.5,"v":0.61,"v2":0.686},{"t":42.2,"v":0.7,"v2":0.8},{"t":47.7,"v":0.75,"v2":0.85},{"t":56.2,"v":0.805,"v2":0.915},{"t":67.5,"v":0.85,"v2":0.96},{"t":81.5,"v":0.88,"v2":0.99},{"t":95.5,"v":0.885,"v2":1.005},{"t":109.6,"v":0.88,"v2":1.0},{"t":123.6,"v":0.87,"v2":0.98},{"t":137.7,"v":0.86,"v2":0.96},{"t":151.8,"v":0.847,"v2":0.943},{"t":163,"v":0.84,"v2":0.93},{"t":173.1,"v":0.84,"v2":0.93}
    ]},
     "mark": {"type": "area", "clip": true, "color": "#00B050"},
     "encoding": {"y2": {"field": "v2"}}},
    {"transform": [{"filter": {"field": "s", "oneOf": ["CH₃OH", "CO₂"]}}],
     "mark": {"type": "line", "clip": true},
     "encoding": {"color": {"field": "s", "type": "nominal", "scale": {"domain": ["H₂", "He", "H₂O", "CH₃OH", "CO₂"], "range": ["#2A6EBB", "#E4572E", "#3DB8F0", "#00B050", "#000000"]}, "legend": null},
      "strokeWidth": {"field": "s", "type": "nominal", "scale": {"domain": ["H₂", "He", "H₂O", "CH₃OH", "CO₂"], "range": [2, 1.5, 1.5, 1.5, 1.5]}, "legend": null}}},
    {"data": {"values": [{"t":-8.2,"v":0.893,"label":"(e)"}]},
     "mark": {"type": "text", "fontSize": 13, "align": "left", "baseline": "middle", "color": "#111"},
     "encoding": {"text": {"field": "label"}}}
   ]
  },
  {
   "width": 216, "height": 163,
   "data": {"values": [
    {"t":-9.02,"v":0,"s":"H₂"},{"t":1.3,"v":0,"s":"H₂"},{"t":4.2,"v":0.063,"s":"H₂"},{"t":7,"v":0.2,"s":"H₂"},{"t":11.2,"v":0.381,"s":"H₂"},{"t":15.4,"v":0.539,"s":"H₂"},{"t":21.1,"v":0.675,"s":"H₂"},{"t":28.1,"v":0.789,"s":"H₂"},{"t":36.5,"v":0.868,"s":"H₂"},{"t":47.7,"v":0.925,"s":"H₂"},{"t":61.8,"v":0.959,"s":"H₂"},{"t":78.7,"v":0.975,"s":"H₂"},{"t":101.2,"v":0.982,"s":"H₂"},{"t":129.3,"v":0.975,"s":"H₂"},{"t":157.3,"v":0.971,"s":"H₂"},{"t":173.1,"v":0.971,"s":"H₂"},
    {"t":-9.02,"v":0.998,"s":"He"},{"t":1.3,"v":0.998,"s":"He"},{"t":3.4,"v":0.971,"s":"He"},{"t":5.6,"v":0.88,"s":"He"},{"t":8.4,"v":0.699,"s":"He"},{"t":11.2,"v":0.539,"s":"He"},{"t":15.4,"v":0.381,"s":"He"},{"t":19.6,"v":0.268,"s":"He"},{"t":25.3,"v":0.165,"s":"He"},{"t":33.7,"v":0.082,"s":"He"},{"t":44.9,"v":0.029,"s":"He"},{"t":59,"v":0.007,"s":"He"},{"t":87,"v":0,"s":"He"},{"t":173.1,"v":0,"s":"He"},
    {"t":-9.02,"v":0.023,"s":"H₂O"},{"t":-3.5,"v":0.007,"s":"H₂O"},{"t":1.3,"v":0.005,"s":"H₂O"},{"t":2.8,"v":0.063,"s":"H₂O"},{"t":5.1,"v":0.381,"s":"H₂O"},{"t":7,"v":0.653,"s":"H₂O"},{"t":8.9,"v":0.812,"s":"H₂O"},{"t":11.8,"v":0.88,"s":"H₂O"},{"t":15.4,"v":0.914,"s":"H₂O"},{"t":21.1,"v":0.948,"s":"H₂O"},{"t":28.1,"v":0.975,"s":"H₂O"},{"t":36.5,"v":0.988,"s":"H₂O"},{"t":50.6,"v":0.986,"s":"H₂O"},{"t":59,"v":0.975,"s":"H₂O"},{"t":80,"v":0.974,"s":"H₂O"},{"t":173.1,"v":0.972,"s":"H₂O"},
    {"t":-9.02,"v":0.007,"s":"CH₃OH"},{"t":9.8,"v":0.012,"s":"CH₃OH"},{"t":12.6,"v":0.086,"s":"CH₃OH"},{"t":15.4,"v":0.2,"s":"CH₃OH"},{"t":19.6,"v":0.358,"s":"CH₃OH"},{"t":23.9,"v":0.494,"s":"CH₃OH"},{"t":29.5,"v":0.63,"s":"CH₃OH"},{"t":35.1,"v":0.733,"s":"CH₃OH"},{"t":42.2,"v":0.835,"s":"CH₃OH"},{"t":50.6,"v":0.9,"s":"CH₃OH"},{"t":61.8,"v":0.945,"s":"CH₃OH"},{"t":73,"v":0.965,"s":"CH₃OH"},{"t":84.3,"v":0.965,"s":"CH₃OH"},{"t":95.5,"v":0.95,"s":"CH₃OH"},{"t":109.6,"v":0.93,"s":"CH₃OH"},{"t":123.6,"v":0.905,"s":"CH₃OH"},{"t":137.7,"v":0.885,"s":"CH₃OH"},{"t":151.8,"v":0.865,"s":"CH₃OH"},{"t":163,"v":0.85,"s":"CH₃OH"},{"t":173.1,"v":0.845,"s":"CH₃OH"},
    {"t":-9.02,"v":0,"s":"CO₂"},{"t":2.2,"v":0,"s":"CO₂"},{"t":5.1,"v":0.063,"s":"CO₂"},{"t":8.4,"v":0.2,"s":"CO₂"},{"t":12.6,"v":0.369,"s":"CO₂"},{"t":16.9,"v":0.517,"s":"CO₂"},{"t":22.4,"v":0.653,"s":"CO₂"},{"t":29.5,"v":0.767,"s":"CO₂"},{"t":37.9,"v":0.846,"s":"CO₂"},{"t":49.2,"v":0.907,"s":"CO₂"},{"t":61.8,"v":0.948,"s":"CO₂"},{"t":78.7,"v":0.975,"s":"CO₂"},{"t":101.2,"v":0.988,"s":"CO₂"},{"t":129.3,"v":0.995,"s":"CO₂"},{"t":157.3,"v":1.002,"s":"CO₂"},{"t":173.1,"v":1.005,"s":"CO₂"}
   ]},
   "encoding": {
    "x": {"field": "t", "type": "quantitative", "scale": {"domain": [-9.02, 173.1], "nice": false, "zero": false}, "axis": {"values": [0, 50, 100, 150], "labelFlush": false, "domain": false, "grid": false, "ticks": false, "labelFontSize": 10.5, "labelColor": "#333", "labelPadding": 4, "title": "Time (min)", "titleFontSize": 13.5, "titleFontWeight": "normal", "titleColor": "#333", "titlePadding": 8, "titleX": 117, "titleAlign": "center"}},
    "y": {"field": "v", "type": "quantitative", "scale": {"domain": [-0.0476, 1.0612], "nice": false, "zero": false}, "axis": null}
   },
   "layer": [
    {"transform": [{"filter": {"field": "s", "oneOf": ["H₂", "He", "H₂O"]}}],
     "mark": {"type": "line", "clip": true},
     "encoding": {"color": {"field": "s", "type": "nominal", "scale": {"domain": ["H₂", "He", "H₂O", "CH₃OH", "CO₂"], "range": ["#2A6EBB", "#E4572E", "#3DB8F0", "#00B050", "#000000"]}, "legend": {"orient": "none", "legendX": 157, "legendY": 70, "title": null, "symbolType": "stroke", "symbolStrokeWidth": 2, "symbolSize": 200, "labelFontSize": 10, "labelColor": "#222", "strokeColor": "#333", "fillColor": "white", "padding": 3, "rowPadding": 0, "labelOffset": 2}},
      "strokeWidth": {"field": "s", "type": "nominal", "scale": {"domain": ["H₂", "He", "H₂O", "CH₃OH", "CO₂"], "range": [2, 1.5, 1.5, 1.5, 1.5]}, "legend": null}}},
    {"data": {"values": [
     {"t":-9.02,"v":-0.008,"v2":0.022},{"t":9.8,"v":-0.003,"v2":0.027},{"t":12.6,"v":0.066,"v2":0.106},{"t":15.4,"v":0.175,"v2":0.225},{"t":19.6,"v":0.33,"v2":0.386},{"t":23.9,"v":0.464,"v2":0.524},{"t":29.5,"v":0.598,"v2":0.662},{"t":35.1,"v":0.698,"v2":0.768},{"t":42.2,"v":0.8,"v2":0.87},{"t":50.6,"v":0.865,"v2":0.935},{"t":61.8,"v":0.91,"v2":0.98},{"t":73,"v":0.93,"v2":1.0},{"t":84.3,"v":0.93,"v2":1.0},{"t":95.5,"v":0.91,"v2":0.99},{"t":109.6,"v":0.888,"v2":0.972},{"t":123.6,"v":0.86,"v2":0.95},{"t":137.7,"v":0.839,"v2":0.931},{"t":151.8,"v":0.817,"v2":0.913},{"t":163,"v":0.802,"v2":0.898},{"t":173.1,"v":0.797,"v2":0.893}
    ]},
     "mark": {"type": "area", "clip": true, "color": "#00B050"},
     "encoding": {"y2": {"field": "v2"}}},
    {"transform": [{"filter": {"field": "s", "oneOf": ["CH₃OH", "CO₂"]}}],
     "mark": {"type": "line", "clip": true},
     "encoding": {"color": {"field": "s", "type": "nominal", "scale": {"domain": ["H₂", "He", "H₂O", "CH₃OH", "CO₂"], "range": ["#2A6EBB", "#E4572E", "#3DB8F0", "#00B050", "#000000"]}},
      "strokeWidth": {"field": "s", "type": "nominal", "scale": {"domain": ["H₂", "He", "H₂O", "CH₃OH", "CO₂"], "range": [2, 1.5, 1.5, 1.5, 1.5]}, "legend": null}}},
    {"data": {"values": [{"t":-7.9,"v":0.884,"label":"(f)"}]},
     "mark": {"type": "text", "fontSize": 13, "align": "left", "baseline": "middle", "color": "#111"},
     "encoding": {"text": {"field": "label"}}}
   ]
  }
  ],
  "spacing": 2,
  "bounds": "flush",
  "resolve": {"scale": {"color": "independent", "strokeWidth": "independent"}, "legend": {"color": "independent"}}
 }
 ],
 "spacing": 18,
 "resolve": {"scale": {"color": "independent", "strokeWidth": "independent"}, "legend": {"color": "independent"}}
}
]
}
